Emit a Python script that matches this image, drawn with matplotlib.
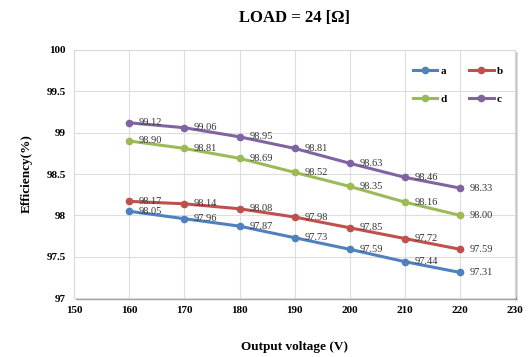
import matplotlib
matplotlib.use("Agg")
from matplotlib import pyplot
from matplotlib import patches

# data
voltage = [160, 170, 180, 190, 200, 210, 220]
eff_a = [98.05, 97.96, 97.87, 97.73, 97.59, 97.44, 97.31]
eff_b = [98.17, 98.14, 98.08, 97.98, 97.85, 97.72, 97.59]
eff_d = [98.90, 98.81, 98.69, 98.52, 98.35, 98.16, 98.00]
eff_c = [99.12, 99.06, 98.95, 98.81, 98.63, 98.46, 98.33]

series = [
    ("a", eff_a, "#4F81BD"),
    ("b", eff_b, "#C0504D"),
    ("d", eff_d, "#9BBB59"),
    ("c", eff_c, "#8064A2"),
]

pyplot.rcParams["font.family"] = ["Liberation Serif", "DejaVu Serif"]

fig = pyplot.figure(figsize=(5.29, 3.57), dpi=100)
ax = fig.add_axes([0.140, 0.165, 0.834, 0.695])

lines = {}
for name, vals, col in series:
    ln, = ax.plot(voltage, vals, color=col, lw=2.2, marker="o", ms=4.5, label=name)
    lines[name] = ln
    for xv, yv in zip(voltage, vals):
        ax.annotate("{:.2f}".format(yv), (xv, yv), xytext=(7, 0),
                    textcoords="offset points", va="center", ha="left",
                    fontsize=7.5, color="#333333")

ax.set_xlim(150, 230)
ax.set_ylim(97, 100)
ax.set_xticks(range(150, 231, 10))
ax.set_yticks([97, 97.5, 98, 98.5, 99, 99.5, 100])
ax.set_yticklabels(["97", "97.5", "98", "98.5", "99", "99.5", "100"])
ax.tick_params(length=0, labelsize=8, pad=6)
for lbl in ax.get_xticklabels() + ax.get_yticklabels():
    lbl.set_fontweight("bold")
ax.grid(True, color="#dddddd", lw=0.8)
ax.set_axisbelow(True)
for sp in ax.spines.values():
    sp.set_color("#d9d9d9")
    sp.set_linewidth(0.8)

# drop shadow under the plot area
for i, a in enumerate([0.12, 0.2, 0.35, 0.5]):
    off = 0.012 - i * 0.0025
    ax.add_patch(patches.Rectangle((0.005, -off), 1.0, off, transform=ax.transAxes,
                                   color="#555555", alpha=a, clip_on=False, lw=0, zorder=0))
    ax.add_patch(patches.Rectangle((1.0, -off), off * 0.6, 1.0, transform=ax.transAxes,
                                   color="#555555", alpha=a * 0.6, clip_on=False, lw=0, zorder=0))

ax.set_ylabel("Efficiency(%)", fontsize=9.5, fontweight="bold", labelpad=10)
fig.text(0.557, 0.01, "Output voltage (V)", ha="center", va="bottom",
         fontsize=9.5, fontweight="bold")
fig.text(0.557, 0.95, "LOAD = 24 [\u03a9]", ha="center", va="center",
         fontsize=12, fontweight="bold")

order = ["a", "d", "b", "c"]
leg = ax.legend([lines[k] for k in order], order, loc="upper right",
                bbox_to_anchor=(0.995, 0.975), ncol=2, frameon=False,
                fontsize=8, handlelength=2.2, columnspacing=2.0, handletextpad=0.3,
                labelspacing=1.6)
for t in leg.get_texts():
    t.set_fontweight("bold")

pyplot.savefig("out.png", dpi=100)
